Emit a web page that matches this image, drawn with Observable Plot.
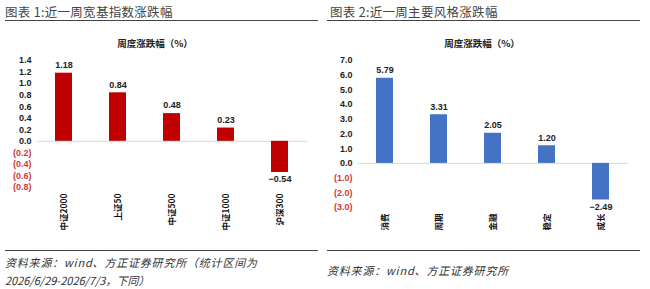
<!DOCTYPE html>
<html><head><meta charset="utf-8">
<script src="https://cdn.jsdelivr.net/npm/d3@7"></script>
<script src="https://cdn.jsdelivr.net/npm/@observablehq/plot@0.6"></script>
<style>
body{margin:0;width:650px;height:289px;background:#fff;position:relative;overflow:hidden;font-family:"Noto Sans CJK SC","Noto Sans",sans-serif;}
.abs{position:absolute;}
.ttl{font-size:12.5px;color:#444;white-space:nowrap;letter-spacing:0.3px;}
.rule{height:0;border-top:1.5px solid #444;}
.ctitle{font-size:9.5px;font-weight:bold;color:#222;white-space:nowrap;transform:translateX(-50%);}
.src{font-size:11px;font-style:italic;color:#333;white-space:nowrap;line-height:18px;letter-spacing:0.8px;}
</style></head>
<body>
<div class="abs ttl" style="left:5px;top:2px">图表 1:近一周宽基指数涨跌幅</div>
<div class="abs rule" style="left:5px;top:20px;width:313px"></div>
<div class="abs ctitle" style="left:155px;top:36px">周度涨跌幅（%）</div>
<div id="c1" class="abs" style="left:0;top:50px"></div>
<div class="abs rule" style="left:5px;top:250px;width:313px"></div>
<div class="abs src" style="left:5px;top:253px">资料来源：wind、方正证券研究所（统计区间为<br><span style="letter-spacing:0">2026/6/29-2026/7/3，下同）</span></div>

<div class="abs ttl" style="left:330px;top:2px">图表 2:近一周主要风格涨跌幅</div>
<div class="abs rule" style="left:327px;top:20px;width:313px"></div>
<div class="abs ctitle" style="left:482px;top:36px">周度涨跌幅（%）</div>
<div id="c2" class="abs" style="left:325px;top:50px"></div>
<div class="abs rule" style="left:327px;top:250px;width:313px"></div>
<div class="abs src" style="left:327px;top:261px">资料来源：wind、方正证券研究所</div>
<script>
const cats1 = ["中证2000","上证50","中证500","中证1000","沪深300"];
const vals1 = [1.18, 0.84, 0.48, 0.23, -0.54];
const ticks1 = [1.4,1.2,1.0,0.8,0.6,0.4,0.2,0.0,-0.2,-0.4,-0.6,-0.8];

const cats2 = ["消费","周期","金融","稳定","成长"];
const vals2 = [5.79, 3.31, 2.05, 1.20, -2.49];
const ticks2 = [7,6,5,4,3,2,1,0,-1,-2,-3];

function fmt(v){ const s = Math.abs(v).toFixed(1); return v < 0 ? "(" + s + ")" : s; }
function lab(v){ return v < 0 ? "\u2212" + Math.abs(v).toFixed(2) : v.toFixed(2); }

function chart(cats, vals, ticks, domain, color, ml, mr, mb){
  const data = cats.map((c,i)=>({c, v: vals[i]}));
  const pos = ticks.filter(t=>t>=0), neg = ticks.filter(t=>t<0);
  const dpos = data.filter(d=>d.v>=0), dneg = data.filter(d=>d.v<0);
  return Plot.plot({
    width: 325, height: 190,
    marginTop: 10, marginBottom: mb, marginLeft: ml, marginRight: mr,
    style: {fontFamily: "'Liberation Sans','Noto Sans CJK SC',sans-serif", background: "transparent"},
    x: {domain: cats, paddingInner: 0.685, paddingOuter: 0.3425, axis: null},
    y: {domain, axis: null},
    marks: [
      Plot.ruleY([0], {stroke: "#d9d9d9", strokeWidth: 1}),
      Plot.barY(data, {x: "c", y: "v", fill: color}),
      Plot.axisY({ticks: pos, tickSize: 0, tickPadding: 6, tickFormat: fmt, fill: "#222", fontSize: 9, fontWeight: "bold", label: null}),
      Plot.axisY({ticks: neg, tickSize: 0, tickPadding: 6, tickFormat: fmt, fill: "#d03a3a", fontSize: 9, fontWeight: "bold", label: null}),
      Plot.text(dpos, {x: "c", y: "v", text: d => lab(d.v), dy: -8, fill: "#222", fontSize: 9, fontWeight: "bold"}),
      Plot.text(dneg, {x: "c", y: "v", text: d => lab(d.v), dy: 7, fill: "#222", fontSize: 9, fontWeight: "bold"}),
      Plot.text(cats, {x: d => d, frameAnchor: "bottom", dy: 6, rotate: -90, textAnchor: "end", lineAnchor: "middle", fill: "#111", fontSize: 8.5, fontWeight: "bold", fontFamily: "'Noto Sans CJK SC',sans-serif"})
    ]
  });
}
document.getElementById("c1").append(chart(cats1, vals1, ticks1, [-0.8, 1.4], "#c00000", 37, 18, 53));
document.getElementById("c2").append(chart(cats2, vals2, ticks2, [-3, 7], "#4472c4", 33, 22, 33));
</script>
</body></html>
